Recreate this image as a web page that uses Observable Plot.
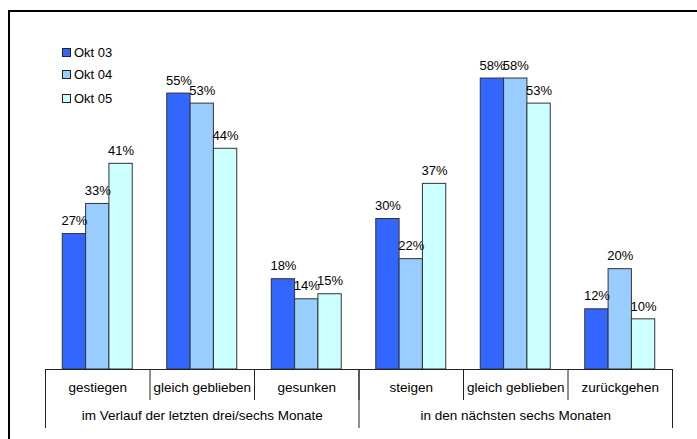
<!DOCTYPE html>
<html>
<head>
<meta charset="utf-8">
<script src="https://cdn.jsdelivr.net/npm/d3@7"></script>
<script src="https://cdn.jsdelivr.net/npm/@observablehq/plot@0.6"></script>
<style>
  body { margin: 0; background: #fff; font-family: Arial, "Liberation Sans", Helvetica, sans-serif; }
  #wrap { position: relative; width: 697px; height: 439px; overflow: hidden; background: #fff; }
  #border { position: absolute; left: 8px; top: 10px; width: 760px; height: 500px;
            border-left: 2px solid #000; border-top: 2px solid #000; box-sizing: border-box; }
  #chart { position: absolute; left: 0; top: 0; }
  #legend { position: absolute; left: 62px; top: 0; font-size: 13px; color: #000; }
  #legend .item { position: absolute; left: 0; white-space: nowrap; display: flex; align-items: center; height: 16px; }
  #legend .sw { width: 7px; height: 7px; border: 1px solid #222; margin-right: 3px; }
</style>
</head>
<body>
<div id="wrap">
  <div id="border"></div>
  <div id="chart"></div>
  <div id="legend"></div>
</div>
<script>
// Survey shares (%) by answer category, three survey waves
const series = ["Okt 03", "Okt 04", "Okt 05"];
const seriesColors = ["#3366ff", "#99ccff", "#ccffff"];
const groups = ["im Verlauf der letzten drei/sechs Monate", "in den nächsten sechs Monaten"];
const categories = ["gestiegen", "gleich geblieben", "gesunken", "steigen", "gleich geblieben", "zurückgehen"];
const okt03 = [27, 55, 18, 30, 58, 12];
const okt04 = [33, 53, 14, 22, 58, 20];
const okt05 = [41, 44, 15, 37, 53, 10];

// Tidy rows: one per bar; categories keyed by index since two names repeat
const waves = [okt03, okt04, okt05];
const rows = categories.flatMap((c, i) =>
  waves.map((vals, s) => ({cat: i, name: c, series: series[s], value: vals[i]}))
);
const catKeys = categories.map((c, i) => i);

const W = 697, H = 439;
const mTop = 68, mBottom = 70, mLeft = 45, mRight = 25;
const plotH = H - mTop - mBottom;
const lineColor = "#222";

const chart = Plot.plot({
  width: W,
  height: H,
  marginTop: mTop,
  marginBottom: mBottom,
  marginLeft: mLeft,
  marginRight: mRight,
  style: {fontFamily: "Arial, 'Liberation Sans', Helvetica, sans-serif", fontSize: "13px", background: "transparent", overflow: "visible"},
  fx: {domain: catKeys, padding: 0, round: false, axis: null},
  x: {domain: series, paddingInner: 0, paddingOuter: 0.74, round: false, axis: null},
  y: {domain: [0, 60], axis: null},
  color: {domain: series, range: seriesColors},
  marks: [
    Plot.barY(rows, {fx: "cat", x: "series", y: "value", fill: "series", stroke: "#333", strokeWidth: 1}),
    Plot.text(rows, {fx: "cat", x: "series", y: "value", text: d => `${d.value}%`, dy: -13, fontSize: 13, fill: "#000"}),
    Plot.ruleY([0], {stroke: lineColor, strokeWidth: 1}),
    // category cell dividers below the baseline
    Plot.frame({anchor: "left", insetTop: plotH, insetBottom: -30, stroke: lineColor, strokeWidth: 1}),
    // longer dividers bounding the two groups
    Plot.frame({fx: () => 0, anchor: "left", insetTop: plotH, insetBottom: -58, stroke: lineColor, strokeWidth: 1}),
    Plot.frame({fx: () => 3, anchor: "left", insetTop: plotH, insetBottom: -58, stroke: lineColor, strokeWidth: 1}),
    Plot.frame({fx: () => 5, anchor: "right", insetTop: plotH, insetBottom: -58, stroke: lineColor, strokeWidth: 1}),
    Plot.text(catKeys, {fx: d => d, text: d => categories[d], frameAnchor: "bottom", dy: 22, fontSize: 13.5, fill: "#000"}),
    Plot.text(groups, {fx: (d, i) => i * 3 + 1, text: d => d, frameAnchor: "bottom", dy: 50, fontSize: 13.5, fill: "#000"})
  ]
});
document.getElementById("chart").appendChild(chart);

// Legend: vertical list of swatches
const legendTops = [44, 66, 90];
const legend = d3.select("#legend");
series.forEach((s, i) => {
  const item = legend.append("div").attr("class", "item").style("top", legendTops[i] + "px");
  item.append("div").attr("class", "sw").style("background", seriesColors[i]);
  item.append("span").text(s);
});
</script>
</body>
</html>
